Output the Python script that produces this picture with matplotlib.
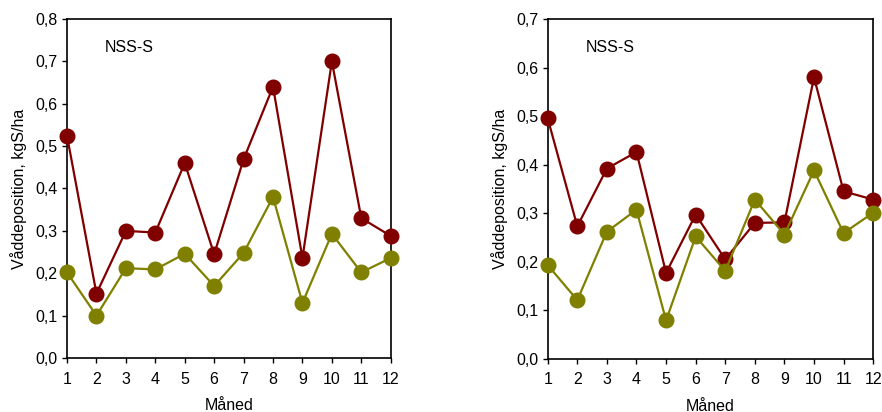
import numpy as np
import matplotlib.pyplot as plt
from matplotlib.ticker import FuncFormatter

plt.rcParams['font.family'] = ['Liberation Sans', 'DejaVu Sans']

months = np.arange(1, 13)
# left panel
left_red = [0.524, 0.152, 0.300, 0.296, 0.460, 0.245, 0.469, 0.640, 0.236, 0.700, 0.330, 0.288]
left_olive = [0.202, 0.100, 0.212, 0.209, 0.246, 0.170, 0.248, 0.380, 0.130, 0.293, 0.202, 0.236]
# right panel
right_red = [0.495, 0.273, 0.392, 0.426, 0.177, 0.297, 0.205, 0.280, 0.281, 0.580, 0.345, 0.328]
right_olive = [0.193, 0.121, 0.262, 0.307, 0.079, 0.252, 0.181, 0.328, 0.256, 0.388, 0.259, 0.301]

red = '#800000'
olive = '#808000'

fig = plt.figure(figsize=(8.82, 4.12), dpi=100)
ax1 = fig.add_axes([0.076, 0.131, 0.367, 0.823])
ax2 = fig.add_axes([0.621, 0.129, 0.369, 0.825])

comma = FuncFormatter(lambda v, p: f'{v:.1f}'.replace('.', ','))

for ax, r, o, ymax in [(ax1, left_red, left_olive, 0.8),
                       (ax2, right_red, right_olive, 0.7)]:
    ax.plot(months, r, '-o', color=red, lw=1.6, ms=10.5, clip_on=False, zorder=3)
    ax.plot(months, o, '-o', color=olive, lw=1.6, ms=10.5, clip_on=False, zorder=3)
    ax.set_xlim(1, 12)
    ax.set_ylim(0, ymax)
    ax.set_xticks(months)
    ax.set_yticks(np.arange(0, ymax + 0.001, 0.1))
    ax.yaxis.set_major_formatter(comma)
    ax.tick_params(direction='out', length=3.8, labelsize=11.5, width=1)
    ax.tick_params(axis='x', pad=6)
    ax.tick_params(axis='y', pad=3)
    for s in ax.spines.values():
        s.set_linewidth(1.2)
    ax.set_xlabel('Måned', fontsize=11.5, labelpad=8)
    ax.set_ylabel('Våddeposition, kgS/ha', fontsize=11.5, labelpad=6)
    ax.text(0.117, 0.917, 'NSS-S', transform=ax.transAxes, fontsize=11.5, va='center')

fig.savefig('out.png', dpi=100)
